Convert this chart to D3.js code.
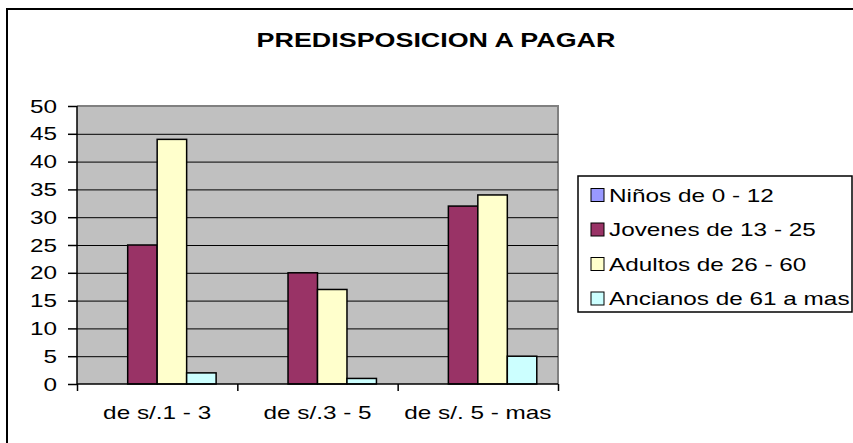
<!DOCTYPE html>
<html>
<head>
<meta charset="utf-8">
<script src="https://cdn.jsdelivr.net/npm/d3@7"></script>
<style>
  body { margin: 0; background: #fff; }
  text { font-family: Arial, "Liberation Sans", sans-serif; }
</style>
</head>
<body>
<script>
var categories = ['de s/.1 - 3', 'de s/.3 - 5', 'de s/. 5 - mas'];
var series = ['Niños de 0 - 12', 'Jovenes de 13 - 25', 'Adultos de 26 - 60', 'Ancianos de 61 a mas'];
var ninos = [0, 0, 0];
var jovenes = [25, 20, 32];
var adultos = [44, 17, 34];
var ancianos = [2, 1, 5];
var yTicks = [0, 5, 10, 15, 20, 25, 30, 35, 40, 45, 50];
var colors = ['#9999ff', '#993366', '#ffffcc', '#ccffff'];

var values = [ninos, jovenes, adultos, ancianos];
var width = 853;
var height = 443;
var stretch = 1.28; // text in the reference is drawn wider than normal

var plot = { left: 77, top: 106, right: 558, bottom: 384 };

var svg = d3.select('body')
  .append('svg')
  .attr('width', width)
  .attr('height', height);

// outer frame (runs off the right and bottom)
svg.append('rect')
  .attr('x', 7)
  .attr('y', 9)
  .attr('width', 900)
  .attr('height', 500)
  .attr('fill', 'white')
  .attr('stroke', 'black')
  .attr('stroke-width', 2);

svg.append('text')
  .attr('transform', 'translate(436,47) scale(' + stretch + ',1)')
  .attr('text-anchor', 'middle')
  .attr('font-size', '21px')
  .attr('font-weight', 'bold')
  .text('PREDISPOSICION A PAGAR');

var x0 = d3.scaleBand()
  .domain(categories)
  .range([plot.left, plot.right])
  .padding(0);

var x1 = d3.scaleBand()
  .domain(series)
  .range([0, x0.bandwidth()])
  .paddingInner(0)
  .paddingOuter(0.72);

var y = d3.scaleLinear()
  .domain([0, 50])
  .range([plot.bottom, plot.top]);

// plot background
svg.append('rect')
  .attr('x', plot.left)
  .attr('y', plot.top)
  .attr('width', plot.right - plot.left)
  .attr('height', plot.bottom - plot.top)
  .attr('fill', '#c0c0c0');

svg.append('path')
  .attr('d', 'M' + plot.left + ',' + plot.top + 'H' + plot.right + 'V' + plot.bottom)
  .attr('fill', 'none')
  .attr('stroke', '#808080')
  .attr('stroke-width', 2);

// gridlines
svg.append('g')
  .attr('transform', 'translate(' + plot.left + ',0)')
  .call(d3.axisLeft(y).tickValues(yTicks.slice(1, -1)).tickSize(-(plot.right - plot.left)).tickFormat(''))
  .call(function(g) { g.select('.domain').remove(); })
  .selectAll('line')
  .attr('stroke', 'black');

// bars
var groups = svg.append('g')
  .selectAll('g')
  .data(categories)
  .enter()
  .append('g')
  .attr('transform', function(d) {
    return 'translate(' + x0(d) + ',0)';
  });

groups.selectAll('rect')
  .data(function(d, i) {
    return series.map(function(s, j) {
      return { key: s, value: values[j][i], color: colors[j] };
    });
  })
  .enter()
  .append('rect')
  .filter(function(d) { return d.value > 0; })
  .attr('x', function(d) { return x1(d.key); })
  .attr('y', function(d) { return y(d.value); })
  .attr('width', x1.bandwidth())
  .attr('height', function(d) { return y(0) - y(d.value); })
  .attr('fill', function(d) { return d.color; })
  .attr('stroke', 'black')
  .attr('stroke-width', 1.5);

// y axis
var yAxis = svg.append('g')
  .attr('transform', 'translate(' + plot.left + ',0)')
  .call(d3.axisLeft(y).tickValues(yTicks).tickSize(9).tickPadding(11));

yAxis.selectAll('line, path').attr('stroke', 'black').attr('stroke-width', 1.5);
yAxis.select('.domain').attr('d', 'M0,' + plot.top + 'V' + plot.bottom);
yAxis.selectAll('text')
  .attr('font-size', '19px')
  .attr('fill', 'black')
  .attr('x', -20 / stretch)
  .attr('transform', 'scale(' + stretch + ',1)');

// x axis: ticks at category edges, labels in the middle
var edges = d3.scaleLinear().domain([0, categories.length]).range([plot.left, plot.right]);

var xTicks = svg.append('g')
  .attr('transform', 'translate(0,' + plot.bottom + ')')
  .call(d3.axisBottom(edges).tickValues(d3.range(categories.length + 1)).tickSize(7).tickFormat(''));
xTicks.selectAll('line, path').attr('stroke', 'black').attr('stroke-width', 1.5);
xTicks.select('.domain').attr('d', 'M' + plot.left + ',0H' + plot.right);

var xLabels = svg.append('g')
  .attr('transform', 'translate(0,' + plot.bottom + ')')
  .call(d3.axisBottom(x0).tickSize(0).tickPadding(22));
xLabels.select('.domain').remove();
xLabels.selectAll('text')
  .attr('font-size', '19px')
  .attr('fill', 'black')
  .attr('transform', 'scale(' + stretch + ',1)');

// legend
var legend = svg.append('g');

legend.append('rect')
  .attr('x', 578)
  .attr('y', 176)
  .attr('width', 274)
  .attr('height', 136)
  .attr('fill', 'white')
  .attr('stroke', 'black')
  .attr('stroke-width', 1.5);

var items = legend.selectAll('g.item')
  .data(series)
  .enter()
  .append('g')
  .attr('class', 'item')
  .attr('transform', function(d, i) {
    return 'translate(591,' + (195 + i * 34.5) + ')';
  });

items.append('rect')
  .attr('x', 0)
  .attr('y', -6.5)
  .attr('width', 13)
  .attr('height', 13)
  .attr('fill', function(d, i) { return colors[i]; })
  .attr('stroke', 'black')
  .attr('stroke-width', 1);

items.append('text')
  .attr('transform', 'translate(18,0) scale(' + stretch + ',1)')
  .attr('dy', '0.35em')
  .attr('font-size', '19px')
  .text(function(d) { return d; });
</script>
</body>
</html>
